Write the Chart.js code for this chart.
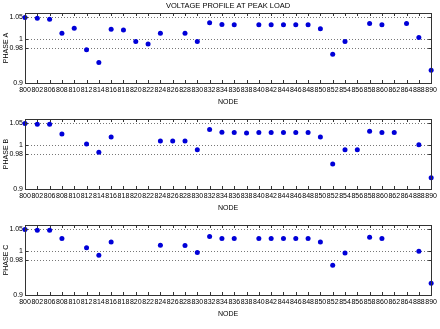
<!DOCTYPE html>
<html>
<head>
<meta charset="utf-8">
<script src="https://cdn.jsdelivr.net/npm/chart.js@4"></script>
<style>
  html, body { margin: 0; padding: 0; background: #fff; }
  #wrap { position: relative; width: 440px; height: 329px; }
  canvas { position: absolute; left: 0; }
</style>
</head>
<body>
<div id="wrap">
  <canvas id="phaseA" width="440" height="106" style="top:0px"></canvas>
  <canvas id="phaseB" width="440" height="106" style="top:106px"></canvas>
  <canvas id="phaseC" width="440" height="106" style="top:212px"></canvas>
</div>
<script>
// nodes (x categories)
const nodes = ['800','802','806','808','810','812','814','816','818','820','822','824','826','828','830','832',
  '834','836','838','840','842','844','846','848','850','852','854','856','858','860','862','864','888','890'];

// voltages per phase (pu), null = node has no such phase
const phaseA = [1.050,1.048,1.046,1.014,1.025,0.976,0.947,1.023,1.021,0.995,0.989,1.014,null,1.014,0.995,1.038,
  1.034,1.033,null,1.033,1.033,1.033,1.033,1.033,1.024,0.966,0.995,null,1.036,1.033,null,1.036,1.004,0.929];
const phaseB = [1.050,1.048,1.048,1.026,null,1.003,0.984,1.019,null,null,null,1.010,1.010,1.010,0.990,1.036,
  1.030,1.029,1.028,1.029,1.029,1.029,1.029,1.029,1.019,0.957,0.990,0.990,1.032,1.029,1.029,null,1.001,0.926];
const phaseC = [1.050,1.048,1.048,1.029,null,1.008,0.991,1.021,null,null,null,1.014,null,1.013,0.997,1.034,
  1.029,1.029,null,1.029,1.029,1.029,1.029,1.029,1.021,0.968,0.996,null,1.032,1.029,null,null,1.000,0.927];

const yTicks = [0.9, 0.98, 1, 1.05];

Chart.defaults.font.family = "'Liberation Sans', Arial, sans-serif";
Chart.defaults.color = '#000';

// matlab style box + inward ticks
const boxPlugin = {
  id: 'box',
  afterDraw(chart) {
    const { ctx, chartArea: a, scales: { x, y } } = chart;
    ctx.save();
    ctx.strokeStyle = '#333';
    ctx.lineWidth = 1;
    ctx.strokeRect(Math.round(a.left) + 0.5, Math.round(a.top) + 0.5,
      Math.round(a.right - a.left), Math.round(a.bottom - a.top));
    ctx.beginPath();
    x.ticks.forEach((t, i) => {
      const px = Math.round(x.getPixelForTick(i)) + 0.5;
      ctx.moveTo(px, a.top); ctx.lineTo(px, a.top + 3);
      ctx.moveTo(px, a.bottom); ctx.lineTo(px, a.bottom - 3);
    });
    y.ticks.forEach((t, i) => {
      const py = Math.round(y.getPixelForTick(i)) + 0.5;
      ctx.moveTo(a.left, py); ctx.lineTo(a.left + 3, py);
      ctx.moveTo(a.right, py); ctx.lineTo(a.right - 3, py);
    });
    ctx.stroke();
    ctx.restore();
  }
};

function makeChart(id, label, values, withTitle) {
  return new Chart(document.getElementById(id), {
    type: 'line',
    data: {
      labels: nodes,
      datasets: [{
        data: values,
        showLine: false,
        pointRadius: 2.5,
        pointBorderWidth: 0,
        pointBackgroundColor: '#0000d8'
      }]
    },
    options: {
      responsive: false,
      animation: false,
      devicePixelRatio: 1,
      layout: { padding: { top: withTitle ? 0 : 13, right: 6, left: 2, bottom: 0 } },
      plugins: {
        legend: { display: false },
        tooltip: { enabled: false },
        title: {
          display: withTitle,
          text: 'VOLTAGE PROFILE AT PEAK LOAD',
          fullSize: false,
          color: '#000',
          font: { size: 7.5, weight: 'normal' },
          padding: { top: 1, bottom: 3 }
        }
      },
      scales: {
        x: {
          type: 'category',
          offset: false,
          grid: { display: false, drawTicks: false },
          border: { display: false },
          ticks: { autoSkip: false, maxRotation: 0, minRotation: 0, font: { size: 7 }, color: '#000', padding: 3 },
          title: { display: true, text: 'NODE', color: '#000', font: { size: 7 }, padding: { top: 2, bottom: 0 } },
          afterFit: s => { s.height = 23; }
        },
        y: {
          min: 0.9,
          max: 1.06,
          afterBuildTicks: s => { s.ticks = yTicks.map(v => ({ value: v })); },
          grid: { color: '#777', lineWidth: 1, drawTicks: false },
          border: { display: false, dash: [1, 2] },
          ticks: { font: { size: 7 }, color: '#000', padding: 2, callback: v => String(v) },
          title: { display: true, text: label, color: '#000', font: { size: 7 }, padding: 0 },
          afterFit: s => { s.width = 23; }
        }
      }
    },
    plugins: [boxPlugin]
  });
}

makeChart('phaseA', 'PHASE A', phaseA, true);
makeChart('phaseB', 'PHASE B', phaseB, false);
makeChart('phaseC', 'PHASE C', phaseC, false);
</script>
</body>
</html>
